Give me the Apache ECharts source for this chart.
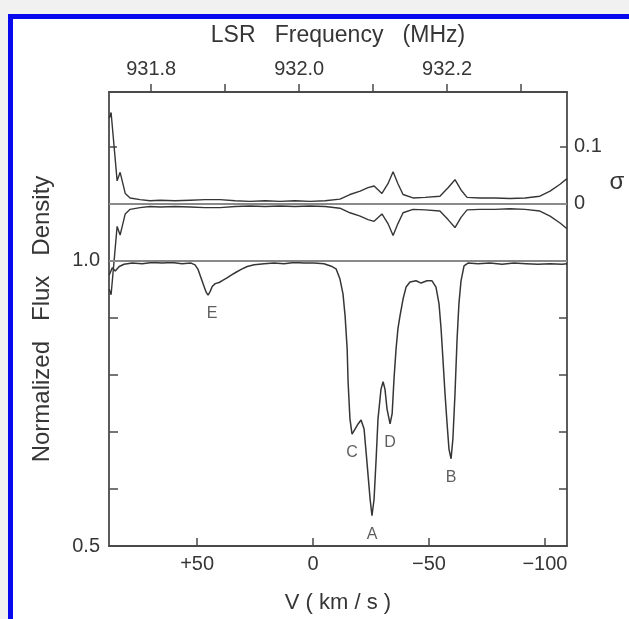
<!DOCTYPE html>
<html>
<head>
<meta charset="utf-8">
<title>LSR Frequency spectrum</title>
<script src="https://cdn.jsdelivr.net/npm/echarts@6/dist/echarts.min.js"></script>
<style>
  html, body { margin: 0; padding: 0; background: #f1f1f1; }
  #chart { width: 629px; height: 619px; }
</style>
</head>
<body>
<div id="chart"></div>
<script>
// Normalized flux density of the absorption spectrum, sampled in LSR velocity (km/s)
const fluxVelocity = [
  87.9, 86.6, 85.3, 83.6, 81.5, 78.0, 73.7, 69.4, 65.1, 60.8, 56.5, 52.6,
  50.9, 49.6, 48.3, 47.0, 46.1, 45.3, 44.4, 43.5, 42.2, 40.5, 38.8, 37.1,
  35.3, 33.2, 31.0, 28.4, 25.4, 21.1, 16.8, 12.5, 8.2, 3.9, -0.4, -4.7,
  -8.2, -9.9, -11.6, -12.9, -13.8, -14.7, -15.1, -15.9, -16.8, -18.1, -19.4, -20.7,
  -22.0, -23.3, -24.6, -25.4, -26.3, -27.2, -28.0, -29.3, -30.2, -31.0, -31.9, -33.2,
  -34.1, -34.9, -35.8, -36.6, -37.5, -38.8, -40.1, -41.8, -44.4, -46.6, -49.1, -51.3,
  -53.0, -54.3, -55.2, -56.0, -56.9, -57.8, -58.6, -59.5, -60.3, -61.2, -62.1, -62.9,
  -63.8, -65.1, -66.8, -71.1, -76.3, -81.5, -86.6, -91.8, -97.0, -102.2, -107.3, -109.5
];
const fluxDensity = [
  0.975, 0.988, 0.982, 0.990, 0.994, 0.996, 0.995, 0.997, 0.996, 0.997, 0.995, 0.996,
  0.993, 0.985, 0.970, 0.955, 0.945, 0.940, 0.946, 0.955, 0.960, 0.962, 0.966, 0.970,
  0.975, 0.980, 0.985, 0.990, 0.993, 0.995, 0.996, 0.995, 0.997, 0.996, 0.996, 0.995,
  0.990, 0.986, 0.968, 0.942, 0.904, 0.846, 0.788, 0.723, 0.696, 0.705, 0.714, 0.721,
  0.705, 0.644, 0.582, 0.553, 0.582, 0.653, 0.723, 0.775, 0.788, 0.775, 0.740, 0.714,
  0.732, 0.793, 0.846, 0.881, 0.904, 0.933, 0.954, 0.963, 0.965, 0.961, 0.965, 0.965,
  0.954, 0.925, 0.881, 0.828, 0.767, 0.714, 0.670, 0.653, 0.688, 0.767, 0.863, 0.925,
  0.965, 0.991, 0.996, 0.995, 0.996, 0.994, 0.996, 0.995, 0.994, 0.995, 0.994, 0.995
];

// Noise level sigma, sampled in velocity; drawn as a +/- envelope about zero
const sigmaVelocity = [
  87.9, 87.1, 85.8, 84.5, 83.2, 82.3, 81.0, 78.9, 74.6, 70.3, 65.9, 59.5,
  53.0, 46.6, 40.1, 33.6, 27.2, 20.7, 14.2, 7.8, 1.3, -5.2, -11.6, -15.9,
  -20.3, -23.7, -26.3, -29.7, -32.3, -34.5, -36.6, -38.8, -43.1, -48.3, -54.7, -58.2,
  -61.2, -63.8, -66.4, -72.0, -78.4, -84.9, -91.4, -97.8, -102.2, -106.5, -109.5
];
const sigmaValues = [
  0.150, 0.160, 0.100, 0.040, 0.055, 0.040, 0.018, 0.010, 0.007, 0.005, 0.006, 0.005,
  0.006, 0.007, 0.007, 0.005, 0.004, 0.005, 0.004, 0.005, 0.004, 0.005, 0.008, 0.016,
  0.022, 0.028, 0.031, 0.018, 0.035, 0.056, 0.035, 0.016, 0.010, 0.011, 0.013, 0.028,
  0.042, 0.024, 0.011, 0.010, 0.010, 0.009, 0.010, 0.013, 0.022, 0.034, 0.044
];

// Absorption components and the (velocity, flux) of their minima
const componentNames = ['E', 'C', 'A', 'D', 'B'];
const componentVelocity = [45.3, -16.8, -25.4, -33.2, -59.5];
const componentFlux = [0.940, 0.696, 0.553, 0.714, 0.653];

// Axis ticks and labels
const velocityTicks = [50, 0, -50, -100];
const frequencyTicks = [931.8, 931.9, 932.0, 932.1, 932.2, 932.3];
const frequencyLabels = [931.8, 932.0, 932.2];
const fluxTicks = [0.5, 0.6, 0.7, 0.8, 0.9, 1.0];
const fluxLabels = [0.5, 1.0];
const sigmaTicks = [0.1];
const sigmaLabels = [0, 0.1];

// Axis extents
const VEL_LEFT = 88, VEL_RIGHT = -109.5;
const FREQ_LEFT = 931.743, FREQ_RIGHT = 932.362;
const FLUX_MIN = 0.5, FLUX_MAX = 1.296;
const SIGMA_MIN = -0.601, SIGMA_MAX = 0.196;

const FONT = "'Liberation Sans', Arial, sans-serif";
const INK = '#363636';
const LINE = '#363636';

const fluxSeries = fluxVelocity.map((v, i) => [v, fluxDensity[i]]);
const sigmaUpper = sigmaVelocity.map((v, i) => [v, sigmaValues[i]]);
const sigmaLower = sigmaVelocity.map((v, i) => [v, -sigmaValues[i]]);
const componentPoints = componentNames.map((n, i) => ({
  name: n, value: [componentVelocity[i], componentFlux[i]],
  label: n === 'E' ? { offset: [4, 0] } : undefined
}));

function velocityLabel(v) {
  if (v > 0) return '+' + v;
  if (v < 0) return '\u2212' + Math.abs(v);
  return '0';
}

const axisLine = { show: true, onZero: false, lineStyle: { color: '#4a4a4a', width: 1.8 } };
const hiddenLine = { show: false, onZero: false };
const tickStyle = { color: '#4a4a4a', width: 1.5 };

const chart = echarts.init(document.getElementById('chart'), null, { renderer: 'canvas' });
chart.setOption({
  backgroundColor: '#f1f1f1',
  animation: false,
  textStyle: { fontFamily: FONT },
  graphic: [
    {
      type: 'rect', z: -10,
      shape: { x: 10.5, y: 16.5, width: 700, height: 700 },
      style: { fill: '#ffffff', stroke: '#0808ee', lineWidth: 5 }
    },
    {
      type: 'text', x: 617, y: 182, z: 10,
      style: { text: '\u03c3', fontSize: 24, fontFamily: FONT, fill: INK, align: 'center', verticalAlign: 'middle' }
    }
  ],
  grid: { left: 109, right: 62, top: 92, bottom: 73, containLabel: false },
  xAxis: [
    {
      type: 'value', position: 'bottom', inverse: true,
      min: VEL_RIGHT, max: VEL_LEFT,
      name: 'V ( km / s )', nameLocation: 'middle', nameGap: 46,
      nameTextStyle: { fontSize: 22, color: INK, fontFamily: FONT },
      axisLine: axisLine,
      axisTick: { show: true, inside: true, length: 8, lineStyle: tickStyle, customValues: velocityTicks },
      axisLabel: { show: true, margin: 8, fontSize: 20, color: INK, fontFamily: FONT,
                   customValues: velocityTicks, formatter: velocityLabel },
      splitLine: { show: false }
    },
    {
      type: 'value', position: 'top',
      min: FREQ_LEFT, max: FREQ_RIGHT,
      name: 'LSR   Frequency   (MHz)', nameLocation: 'middle', nameGap: 45,
      nameTextStyle: { fontSize: 23, color: INK, fontFamily: FONT },
      axisLine: axisLine,
      axisTick: { show: true, inside: false, length: 8, lineStyle: tickStyle, customValues: frequencyTicks },
      axisLabel: { show: true, margin: 13, fontSize: 20, color: INK, fontFamily: FONT,
                   customValues: frequencyLabels, formatter: v => v.toFixed(1) },
      splitLine: { show: false }
    }
  ],
  yAxis: [
    {
      type: 'value', position: 'left', min: FLUX_MIN, max: FLUX_MAX,
      name: 'Normalized   Flux   Density', nameLocation: 'middle', nameGap: 55,
      nameTextStyle: { fontSize: 24, color: INK, fontFamily: FONT },
      axisLine: axisLine,
      axisTick: { show: true, inside: true, length: 9, lineStyle: tickStyle, customValues: fluxTicks },
      axisLabel: { show: true, margin: 9, fontSize: 20, color: INK, fontFamily: FONT,
                   customValues: fluxLabels, formatter: v => v.toFixed(1) },
      splitLine: { show: false }
    },
    {
      type: 'value', position: 'right', min: FLUX_MIN, max: FLUX_MAX,
      axisLine: axisLine,
      axisTick: { show: true, inside: true, length: 8, lineStyle: tickStyle, customValues: fluxTicks.slice(1, 5) },
      axisLabel: { show: false },
      splitLine: { show: false }
    },
    {
      type: 'value', position: 'right', min: SIGMA_MIN, max: SIGMA_MAX,
      axisLine: hiddenLine,
      axisTick: { show: true, inside: true, length: 7, lineStyle: tickStyle, customValues: sigmaTicks },
      axisLabel: { show: true, margin: 7, fontSize: 20, color: INK, fontFamily: FONT,
                   customValues: sigmaLabels, formatter: v => (v === 0 ? '0' : v.toFixed(1)) },
      splitLine: { show: false }
    },
    {
      type: 'value', position: 'left', min: SIGMA_MIN, max: SIGMA_MAX,
      axisLine: hiddenLine,
      axisTick: { show: true, inside: true, length: 8, lineStyle: tickStyle, customValues: sigmaTicks },
      axisLabel: { show: false },
      splitLine: { show: false }
    }
  ],
  series: [
    {
      type: 'line', name: 'flux', xAxisIndex: 0, yAxisIndex: 0,
      data: fluxSeries, showSymbol: false, symbol: 'none',
      lineStyle: { color: LINE, width: 1.5 },
      markLine: {
        silent: true, symbol: 'none', label: { show: false },
        lineStyle: { color: '#8a8a8a', width: 2, type: 'solid' },
        data: [{ yAxis: 1.0 }]
      }
    },
    {
      type: 'line', name: 'sigma+', xAxisIndex: 0, yAxisIndex: 2,
      data: sigmaUpper, showSymbol: false, symbol: 'none',
      lineStyle: { color: LINE, width: 1.4 },
      markLine: {
        silent: true, symbol: 'none', label: { show: false },
        lineStyle: { color: '#8a8a8a', width: 2, type: 'solid' },
        data: [{ yAxis: 0 }]
      }
    },
    {
      type: 'line', name: 'sigma-', xAxisIndex: 0, yAxisIndex: 2,
      data: sigmaLower, showSymbol: false, symbol: 'none',
      lineStyle: { color: LINE, width: 1.4 }
    },
    {
      type: 'scatter', name: 'components', xAxisIndex: 0, yAxisIndex: 0,
      data: componentPoints, symbolSize: 1,
      itemStyle: { color: 'rgba(0,0,0,0)' },
      label: { show: true, position: 'bottom', distance: 10, formatter: '{b}',
               fontSize: 16, color: INK, fontFamily: FONT }
    }
  ]
});
</script>
</body>
</html>
